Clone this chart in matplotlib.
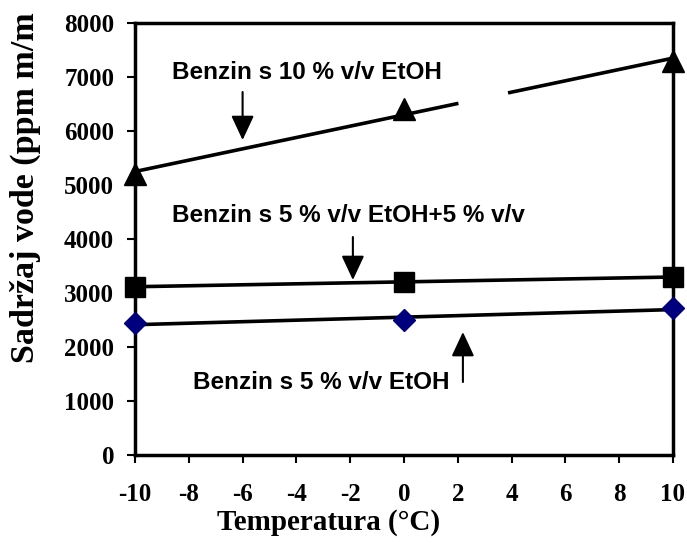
import numpy as np
import matplotlib
matplotlib.use("Agg")
import matplotlib.pyplot as plt

# Data
temps = [-10, 0, 10]
etoh10 = [5200, 6400, 7300]
etoh5_plus5 = [3120, 3200, 3300]
etoh5 = [2440, 2500, 2720]

xticks = [-10, -8, -6, -4, -2, 0, 2, 4, 6, 8, 10]
yticks = [0, 1000, 2000, 3000, 4000, 5000, 6000, 7000, 8000]

label_10 = "Benzin s 10 % v/v EtOH"
label_55 = "Benzin s 5 % v/v EtOH+5 % v/v"
label_5 = "Benzin s 5 % v/v EtOH"

fig = plt.figure(figsize=(6.87, 5.43), dpi=100)
ax = fig.add_axes([0.1965, 0.162, 0.7831, 0.7956])

serif = ["Liberation Serif", "DejaVu Serif"]
sans = ["Liberation Sans", "DejaVu Sans"]

xs = np.linspace(-10, 10, 500)

def trend(y, gap=None):
    c = np.polyfit(temps, y, 1)
    yy = np.polyval(c, xs)
    if gap is not None:
        yy = np.where((xs > gap[0]) & (xs < gap[1]), np.nan, yy)
    return yy

# trend lines
ax.plot(xs, trend(etoh10, gap=(2.05, 3.85)), color="black", lw=2.6, zorder=2, solid_capstyle="butt")
ax.plot(xs, trend(etoh5_plus5), color="black", lw=2.6, zorder=2)
ax.plot(xs, trend(etoh5), color="black", lw=2.6, zorder=2)

# markers
ax.plot(temps, etoh10, linestyle="none", marker="^", ms=16, color="black", zorder=3, clip_on=False)
ax.plot(temps, etoh5_plus5, linestyle="none", marker="s", ms=14, color="black", zorder=3, clip_on=False)
ax.plot(temps, etoh5, linestyle="none", marker="D", ms=11, mfc="#00007f", mec="#00007f", zorder=3, clip_on=False)

ax.set_xlim(-10, 10)
ax.set_ylim(0, 8000)
ax.set_xticks(xticks)
ax.set_yticks(yticks)
ax.set_xticklabels([str(t) for t in xticks], family=serif, fontweight="bold", fontsize=18)
ax.set_yticklabels([str(t) for t in yticks], family=serif, fontweight="bold", fontsize=18)
ax.tick_params(axis="both", direction="out", length=6, width=1.5, color="black")
ax.tick_params(axis="y", pad=9)
ax.tick_params(axis="x", pad=14)
for s in ax.spines.values():
    s.set_linewidth(2.5)

ax.set_xlabel("Temperatura (°C)", family=serif, fontweight="bold", fontsize=21)
ax.set_ylabel("Sadržaj vode (ppm m/m", family=serif, fontweight="bold", fontsize=24.5)
ax.xaxis.set_label_coords(0.36, -0.125)
ax.yaxis.set_label_coords(-0.175, 0.62)

tprops = dict(family=sans, fontweight="bold", fontsize=17.5, va="center", ha="left")
ax.text(-8.62, 7093, label_10, **tprops)
ax.text(-8.62, 4444, label_55, **tprops)
ax.text(-7.84, 1352, label_5, **tprops)

aprops = dict(arrowstyle="-|>,head_width=0.7,head_length=1.5", color="black", lw=1.5,
              shrinkA=0, shrinkB=0)
ax.annotate("", xy=(-6.0, 5833), xytext=(-6.0, 6722), arrowprops=aprops)
ax.annotate("", xy=(-1.9, 3241), xytext=(-1.9, 4037), arrowprops=aprops)
ax.annotate("", xy=(2.19, 2278), xytext=(2.19, 1352), arrowprops=aprops)

fig.savefig("out.png", dpi=100)
